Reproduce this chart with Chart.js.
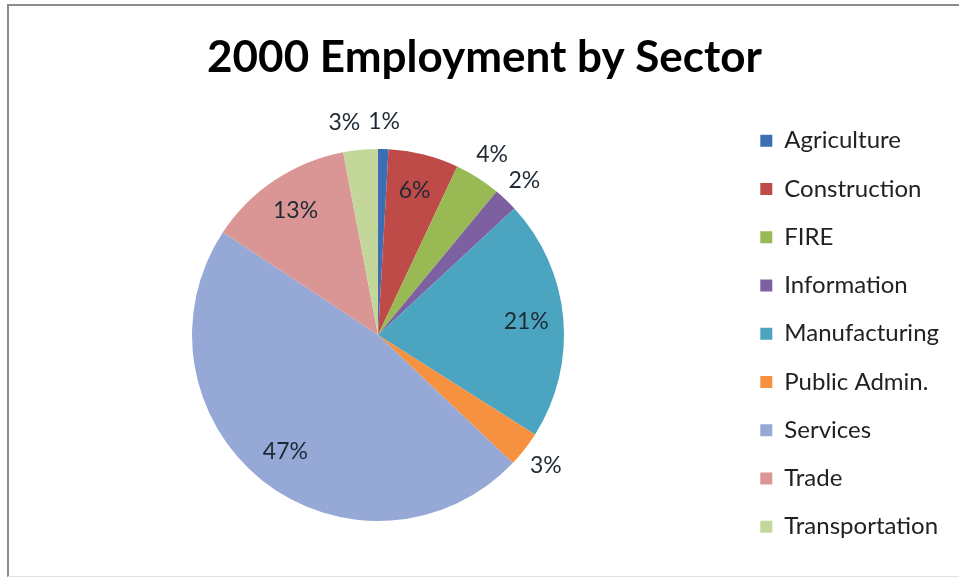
<!DOCTYPE html>
<html>
<head>
<meta charset="utf-8">
<script src="https://cdn.jsdelivr.net/npm/chart.js@4/dist/chart.umd.min.js"></script>
<style>
  body { margin: 0; background: #fff; }
  #wrap { position: relative; width: 959px; height: 579px; }
  #frame {
    position: absolute; left: 7px; top: 4px; right: 0; bottom: 2px;
    border-left: 2px solid #8c8c8c; border-top: 2px solid #8c8c8c;
    border-bottom: 1px solid #e2e2e2; pointer-events: none;
  }
</style>
</head>
<body>
<div id="wrap">
  <canvas id="pieChart"></canvas>
  <div id="frame"></div>
</div>
<script>
var sectors = ['Agriculture', 'Construction', 'FIRE', 'Information', 'Manufacturing',
               'Public Admin.', 'Services', 'Trade', 'Transportation'];
var shares = [0.9, 6.1, 4.0, 2.1, 20.9, 3.1, 47.2, 12.7, 3.0];
var sectorColors = ['#3C6EB4', '#BE4B48', '#98B954', '#7D60A0', '#4BA5C0',
                    '#F5913F', '#95A8D6', '#DA9694', '#C4D79B'];

var labelFont = "Lato, 'Open Sans', sans-serif";

// percentage labels, inside for big slices, outside for the small ones
var pctLabels = {
    id: 'pctLabels',
    afterDatasetsDraw: function(chart) {
        var c = chart.ctx;
        var meta = chart.getDatasetMeta(0);
        var data = chart.data.datasets[0].data;
        var total = data.reduce(function(a, b) { return a + b; }, 0);
        var boxes = [];
        c.save();
        c.font = '23px ' + labelFont;
        c.fillStyle = '#1f2a36';
        c.textAlign = 'center';
        c.textBaseline = 'middle';
        meta.data.forEach(function(arc, i) {
            var pct = data[i] / total * 100;
            var txt = Math.round(pct) + '%';
            var mid = (arc.startAngle + arc.endAngle) / 2;
            var r = pct >= 5 ? arc.outerRadius * 0.8 : arc.outerRadius + 27;
            var x = arc.x + Math.cos(mid) * r;
            var y = arc.y + Math.sin(mid) * r;
            var w = c.measureText(txt).width;
            if (pct < 5) {
                var dir = x < arc.x ? -1 : 1;
                boxes.forEach(function(b) {
                    if (Math.abs(b.y - y) < 22 && Math.abs(b.x - x) < (b.w + w) / 2 + 8) {
                        x = b.x + dir * ((b.w + w) / 2 + 8);
                    }
                });
                boxes.push({x: x, y: y, w: w});
            }
            c.fillText(txt, x, y);
        });
        c.restore();
    }
};

var ctx = document.getElementById('pieChart').getContext('2d');
var pieChart = new Chart(ctx, {
    type: 'pie',
    data: {
        labels: sectors,
        datasets: [{
            data: shares,
            backgroundColor: sectorColors,
            borderWidth: 0,
            radius: 186
        }]
    },
    options: {
        responsive: true,
        maintainAspectRatio: false,
        animation: false,
        layout: { padding: { left: 20, right: 10, top: 0, bottom: 16 } },
        plugins: {
            title: {
                display: true,
                text: '2000 Employment by Sector',
                color: '#000',
                font: { family: labelFont, size: 44, weight: 'bold' },
                padding: { top: 31, bottom: 23 }
            },
            legend: {
                display: true,
                position: 'right',
                align: 'end',
                labels: {
                    color: '#222',
                    font: { family: labelFont, size: 24 },
                    boxWidth: 12,
                    boxHeight: 12,
                    padding: 24.25
                }
            },
            tooltip: { enabled: false }
        }
    },
    plugins: [pctLabels]
});
</script>
</body>
</html>
